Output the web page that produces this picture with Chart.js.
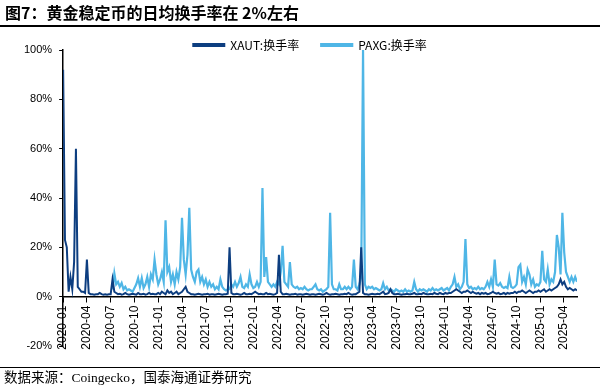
<!DOCTYPE html>
<html><head><meta charset="utf-8">
<script src="https://cdn.jsdelivr.net/npm/chart.js@4/dist/chart.umd.min.js"></script>
<style>
html,body{margin:0;padding:0;background:#fff;}
#wrap{position:relative;width:600px;height:392px;overflow:hidden;background:#fff;}
#c{position:absolute;left:0;top:0;}
#title{position:absolute;left:5px;top:4px;font-weight:bold;font-size:16px;line-height:16px;font-family:"Noto Sans CJK SC";color:#000;white-space:nowrap;}
#tl{position:absolute;left:0;top:25px;width:600px;height:2px;background:#000;}
#bl{position:absolute;left:0;top:367px;width:600px;height:1px;background:#000;}
#src{position:absolute;left:4px;top:371px;font-size:13.5px;line-height:14px;font-family:"Liberation Serif","Noto Sans CJK SC";color:#000;white-space:nowrap;}
</style></head>
<body>
<div id="wrap">
<canvas id="c" width="600" height="392"></canvas>
<div id="title">图7：黄金稳定币的日均换手率在 2%左右</div>
<div id="tl"></div>
<div id="src">数据来源：Coingecko，国泰海通证券研究</div>
<div id="bl"></div>
</div>
<script>
// weekly samples starting 2020-01-01
const startDate = '2020-01-01';
const stepDays = 7;
const quarterLabels = ['2020-01','2020-04','2020-07','2020-10','2021-01','2021-04','2021-07','2021-10',
  '2022-01','2022-04','2022-07','2022-10','2023-01','2023-04','2023-07','2023-10',
  '2024-01','2024-04','2024-07','2024-10','2025-01','2025-04'];
const yTicks = [-20,0,20,40,60,80,100];
const seriesNames = ['XAUT:换手率','PAXG:换手率'];

// XAUT daily turnover (%), one value per week
const xautValues = [
  92,23,20,2,8,3,14,60,4,3,
  2,2,1.5,15,1.5,1,1,0.8,1,1,
  1.5,1,0.8,1,0.8,1,1,7,2,1.5,
  1,1.2,0.8,1,1.5,1,0.8,1,1.2,1,
  0.8,1.5,1,1,1.2,0.8,1,1.5,1,1.2,
  1,1,1.5,1,2,1.5,1,2.5,1.5,2,
  1,1.5,2,1,1.5,2,3,4,2,1.5,
  1,1,0.8,1,1.2,1,0.8,1,1,1.2,
  0.8,1,1,0.8,1,1.2,1,0.8,1,1,
  1.2,20,1.5,1,1,1.2,1,0.8,1,1.5,
  1,1,1.2,1,1.5,2,1.5,1,1.2,1,
  1,1.5,1,1.2,1,0.8,1,1.5,17,2,
  1,1,1.2,1,0.8,1,1,1.2,0.8,1,
  1,0.8,1,1.2,1,0.8,1,1,0.8,1,
  1.2,1,0.8,1,1.5,1,0.8,1,1,1.2,
  1,0.8,1,1,1.2,1,1.5,1,0.8,1,
  1,1.5,2,20,1.5,1,1,0.8,1,1.2,
  1,1,1.2,1,1.5,2,1,1.2,1.5,3,
  1.5,1,1,1.2,1,0.8,1,1,1.2,1,
  1,1.2,1.5,1,1,1.2,1,1.5,1.2,1,
  1,1.2,1,1.5,1.2,1,1.5,1.2,1,1.5,
  1.2,1.5,1.5,2,2.5,3,2.5,2,1.5,2,
  2,2.5,2,1.5,2,1.5,1.2,1.5,1,1.5,
  1.2,1.5,1,1.2,1.5,2,1.5,1.2,1.5,1,
  1.2,1.5,1,1.5,1.2,1.5,1.5,2,1.5,2,
  2,2.5,2,1.5,2,2.5,2,1.5,2,2,
  2.5,2,2.5,3,2,2.5,3,2.5,3,3.5,
  4,5,7,5,6,4,3,3.5,3,2.5,
  3,2.5
];

// PAXG daily turnover (%), one value per week
const paxgValues = [
  null,null,null,null,null,null,null,null,null,null,
  null,null,null,null,null,null,null,null,null,null,
  null,null,null,null,null,null,null,3,9.5,5,
  6,4,5.5,3,4,2.5,3,2.5,2,3.5,
  5,7.5,4,7.5,3.5,5,8,4,9,7,
  15,9,5,7,10,6,31,10,12,6,
  9,5,10,7,12,32,15,9,17,36,
  11,8,6,10,11,6,8,5,7,4,
  6,4,5,3,4,3,7,4,3,2.5,
  3,3,5,4,6,4,5.5,8,4,3.5,
  5,4,9,5,3.5,4,6,4,6,44,
  8,16,6,5,4,5,4,6,5,10,
  20.6,6,5,4,14,5,4,3.5,4,3,
  3.5,3,4,3,2.5,3,3,4,5,3,
  2.5,3,2,2.5,3,4,34,5,3,3,
  2.5,5,3,3,4,3,4,3,4,15,
  4,3,5,8,100,5,3,4,3.5,4,
  3,3.5,3,2.5,3,5.5,3,4,2.5,3,
  2.5,2,3,2.5,2,2.5,2,3,2,2.5,
  2,2.5,6,3,2,3,2.5,3,2.5,2,
  3,2.5,3.5,2.5,3,2.5,3,3.5,2.5,3,
  3.5,2.5,4,5,8,4,5,3,4,6,
  23.4,5,3.5,4,3,3.5,3,4,3,3.5,
  3,4,6,4,7,4,15,5,4.5,5.5,
  4,3.5,4,3.5,8,4,3.5,4,5,12,
  13,6,8,5,11,9,5,7,4,5,
  4.5,6,18.6,7,6,11,5,7,6,10,
  25,20,9,34,18,10,8,6,8,6,
  8,6
];

const DAY = 86400000;
const t0 = Date.parse(startDate + 'T00:00:00Z');
function dayOf(label){ const [y,m] = label.split('-').map(Number); return Math.round((Date.UTC(y, m-1, 1) - t0)/DAY); }
const quarterDays = quarterLabels.map(dayOf);
const endDay = dayOf('2025-05') + 20;

const dark = '#0d3e80';
const light = '#4fb6e6';

const toPts = arr => arr.map((v,i)=>({x:i*stepDays, y:v}));

const shiftLegend = {
  id:'shiftLegend',
  afterLayout(chart){
    const lg = chart.legend; if(!lg) return;
    const dy = 11, dx = 13;
    lg.top += dy; lg.bottom += dy; lg.left += dx; lg.right += dx;
  }
};

new Chart(document.getElementById('c'), {
  type:'line',
  data:{datasets:[
    {label:seriesNames[0], data:toPts(xautValues), borderColor:dark, backgroundColor:dark, borderWidth:2, pointRadius:0, tension:0},
    {label:seriesNames[1], data:toPts(paxgValues), borderColor:light, backgroundColor:light, borderWidth:2.2, pointRadius:0, tension:0}
  ]},
  options:{
    responsive:false, animation:false, devicePixelRatio:1,
    layout:{padding:{left:17,right:23,top:6,bottom:46}},
    plugins:{
      legend:{position:'top', align:'center',
        labels:{boxWidth:31, boxHeight:2, padding:22, color:'#000',
          font:{family:'"Liberation Sans Narrow","Noto Sans CJK SC"', size:12}}},
      tooltip:{enabled:false}
    },
    scales:{
      x:{type:'linear', position:{y:0}, min:0, max:endDay,
        afterBuildTicks: ax => { ax.ticks = quarterDays.map(v=>({value:v})); },
        ticks:{autoSkip:false, minRotation:90, maxRotation:90, padding:4, color:'#000',
          font:{family:'"Liberation Sans"', size:12},
          callback:(v)=>{ const i = quarterDays.indexOf(v); return i>=0 ? quarterLabels[i] : ''; }},
        grid:{display:true, drawOnChartArea:false, drawTicks:true, tickLength:5, color:'#000', lineWidth:1},
        border:{display:true, color:'#000', width:1.5}
      },
      y:{min:yTicks[0], max:yTicks[yTicks.length-1],
        afterBuildTicks: ax => { ax.ticks = yTicks.map(v=>({value:v})); },
        ticks:{padding:7, color:'#000', font:{family:'"Liberation Sans"', size:11}, callback:v=>v+'%'},
        grid:{display:true, drawOnChartArea:false, drawTicks:true, tickLength:4, color:'#000', lineWidth:1},
        border:{display:true, color:'#000', width:1.5}
      }
    }
  },
  plugins:[shiftLegend]
});
</script>
</body></html>
